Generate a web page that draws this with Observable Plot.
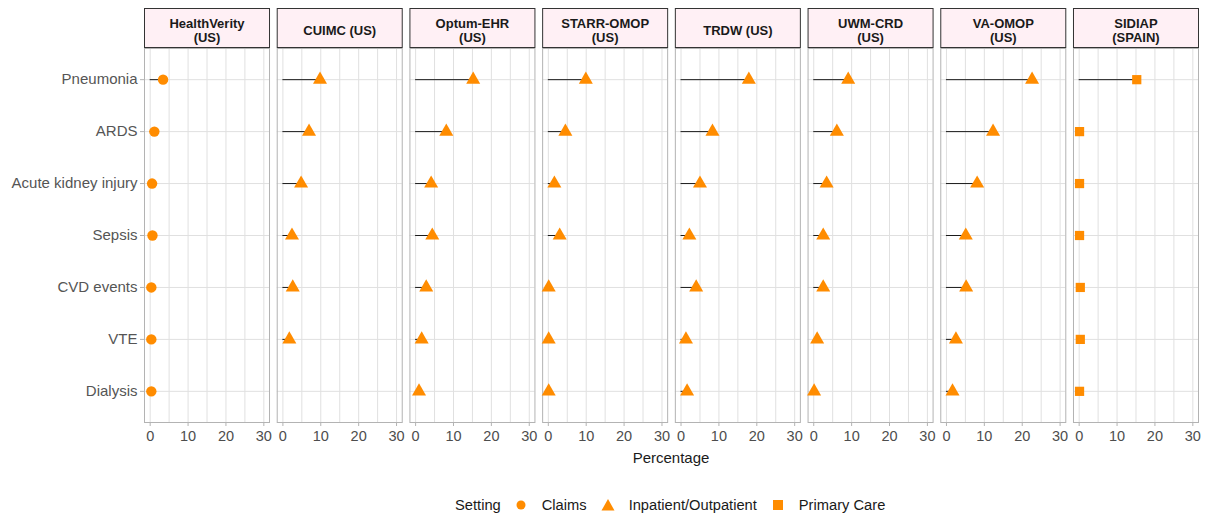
<!DOCTYPE html>
<html><head><meta charset="utf-8">
<script src="https://cdn.jsdelivr.net/npm/d3@7"></script>
<script src="https://cdn.jsdelivr.net/npm/@observablehq/plot@0.6"></script>
<style>
body{margin:0;background:#fff;font-family:"Liberation Sans",Arial,sans-serif;}
#xlabel{position:absolute;left:144px;width:1054px;top:450px;text-align:center;font-size:15px;line-height:16px;color:#1a1a1a;}
#legend{position:absolute;left:455px;top:497px;display:flex;align-items:center;font-size:14.7px;line-height:16px;color:#1a1a1a;white-space:nowrap;}
#legend .lab{margin-right:12px;}
#legend .item{display:flex;align-items:center;}
#legend .item + .item{margin-left:13px;}
#legend svg{margin-right:13px;}
</style></head><body>
<div id="chart"></div>
<div id="xlabel">Percentage</div>
<div id="legend"></div>
<script>
const sites = ["HealthVerity", "CUIMC", "Optum-EHR", "STARR-OMOP", "TRDW", "UWM-CRD", "VA-OMOP", "SIDIAP"];
const siteLabels = ["HealthVerity\n(US)", "CUIMC (US)", "Optum-EHR\n(US)", "STARR-OMOP\n(US)", "TRDW (US)", "UWM-CRD\n(US)", "VA-OMOP\n(US)", "SIDIAP\n(SPAIN)"];
const siteSettings = ["Claims", "Inpatient/Outpatient", "Inpatient/Outpatient", "Inpatient/Outpatient", "Inpatient/Outpatient", "Inpatient/Outpatient", "Inpatient/Outpatient", "Primary Care"];
const settings = ["Claims", "Inpatient/Outpatient", "Primary Care"];
const outcomes = ["Pneumonia", "ARDS", "Acute kidney injury", "Sepsis", "CVD events", "VTE", "Dialysis"];
const xTicks = [0, 10, 20, 30];

const healthVerity = [3.4, 1.1, 0.5, 0.6, 0.3, 0.3, 0.3];
const cuimc        = [9.8, 6.9, 4.8, 2.4, 2.6, 1.7, null];
const optumEhr     = [15.2, 8.1, 4.1, 4.4, 2.8, 1.6, 0.9];
const starrOmop    = [9.9, 4.5, 1.6, 3.0, 0.1, 0.1, 0.1];
const trdw         = [17.9, 8.3, 5.0, 2.2, 4.0, 1.3, 1.6];
const uwmCrd       = [9.1, 6.1, 3.4, 2.5, 2.5, 0.9, 0.1];
const vaOmop       = [22.6, 12.3, 8.1, 5.1, 5.2, 2.5, 1.6];
const sidiap       = [15.2, 0.1, 0.1, 0.1, 0.3, 0.3, 0.1];

const seriesList = [healthVerity, cuimc, optumEhr, starrOmop, trdw, uwmCrd, vaOmop, sidiap];
const data = [];
sites.forEach((s, i) => {
  seriesList[i].forEach((v, j) => {
    if (v != null) data.push({site: s, outcome: outcomes[j], value: v, setting: siteSettings[i]});
  });
});
const strips = sites.map((s, i) => ({site: s, label: siteLabels[i]}));

const W = 1210, H = 450, mT = 48, mB = 28, mL = 144, mR = 12;
const plotH = H - mT - mB;
const orange = "#FF8C00";
const symbolRange = ["circle", "triangle", "square"];

const chart = Plot.plot({
  width: W, height: H,
  marginTop: mT, marginBottom: mB, marginLeft: mL, marginRight: mR,
  style: {fontFamily: "'Liberation Sans', Arial, sans-serif", fontSize: "13px", background: "#fff"},
  fx: {domain: sites, paddingInner: 0.058, paddingOuter: 0, round: false, axis: null, label: null},
  x: {domain: [-1.5, 31.5], label: null},
  y: {type: "point", domain: outcomes, padding: 0.6, round: false, label: null},
  symbol: {domain: settings, range: symbolRange},
  marks: [
    Plot.frame({fill: "#FFF0F5", stroke: "#333", strokeWidth: 1, insetTop: -40, insetBottom: plotH + 1}),
    Plot.text(strips, {fx: "site", text: "label", frameAnchor: "top", dy: -18, lineAnchor: "middle", fontWeight: "bold", fontSize: 13, fill: "#1a1a1a", lineHeight: 1.1}),
    Plot.gridX({ticks: [0, 5, 10, 15, 20, 25, 30], stroke: "#E0E0E0", strokeOpacity: 1, strokeWidth: 1}),
    Plot.gridY({stroke: "#E0E0E0", strokeOpacity: 1, strokeWidth: 1}),
    Plot.frame({stroke: "#B3B3B3", strokeWidth: 1}),
    Plot.axisX({ticks: xTicks, tickSize: 4, tickPadding: 4, stroke: "#B3B3B3", fill: "#4D4D4D", fontSize: 14.5, label: null}),
    Plot.axisY({tickSize: 4, tickPadding: 3, stroke: "#B3B3B3", fill: "#555555", fontSize: 15, label: null}),
    Plot.ruleY(data, {fx: "site", y: "outcome", x1: 0, x2: "value", stroke: "#1a1a1a", strokeWidth: 1}),
    Plot.dot(data, {fx: "site", y: "outcome", x: "value", symbol: "setting", fill: orange, stroke: "none", r: 5.2})
  ]
});
document.getElementById("chart").appendChild(chart);

// legend
const legend = document.getElementById("legend");
const lab = document.createElement("span");
lab.className = "lab";
lab.textContent = "Setting";
legend.appendChild(lab);
const shapes = {
  circle: '<circle cx="8" cy="8" r="4.5" fill="' + orange + '"/>',
  triangle: '<path d="M8 2 L14.5 13.5 L1.5 13.5 Z" fill="' + orange + '"/>',
  square: '<rect x="3" y="3" width="10" height="10" fill="' + orange + '"/>'
};
settings.forEach((s, i) => {
  const it = document.createElement("span");
  it.className = "item";
  it.innerHTML = '<svg width="16" height="16" viewBox="0 0 16 16">' + shapes[symbolRange[i]] + '</svg>';
  const t = document.createElement("span");
  t.textContent = s;
  it.appendChild(t);
  legend.appendChild(it);
});
</script>
</body></html>
